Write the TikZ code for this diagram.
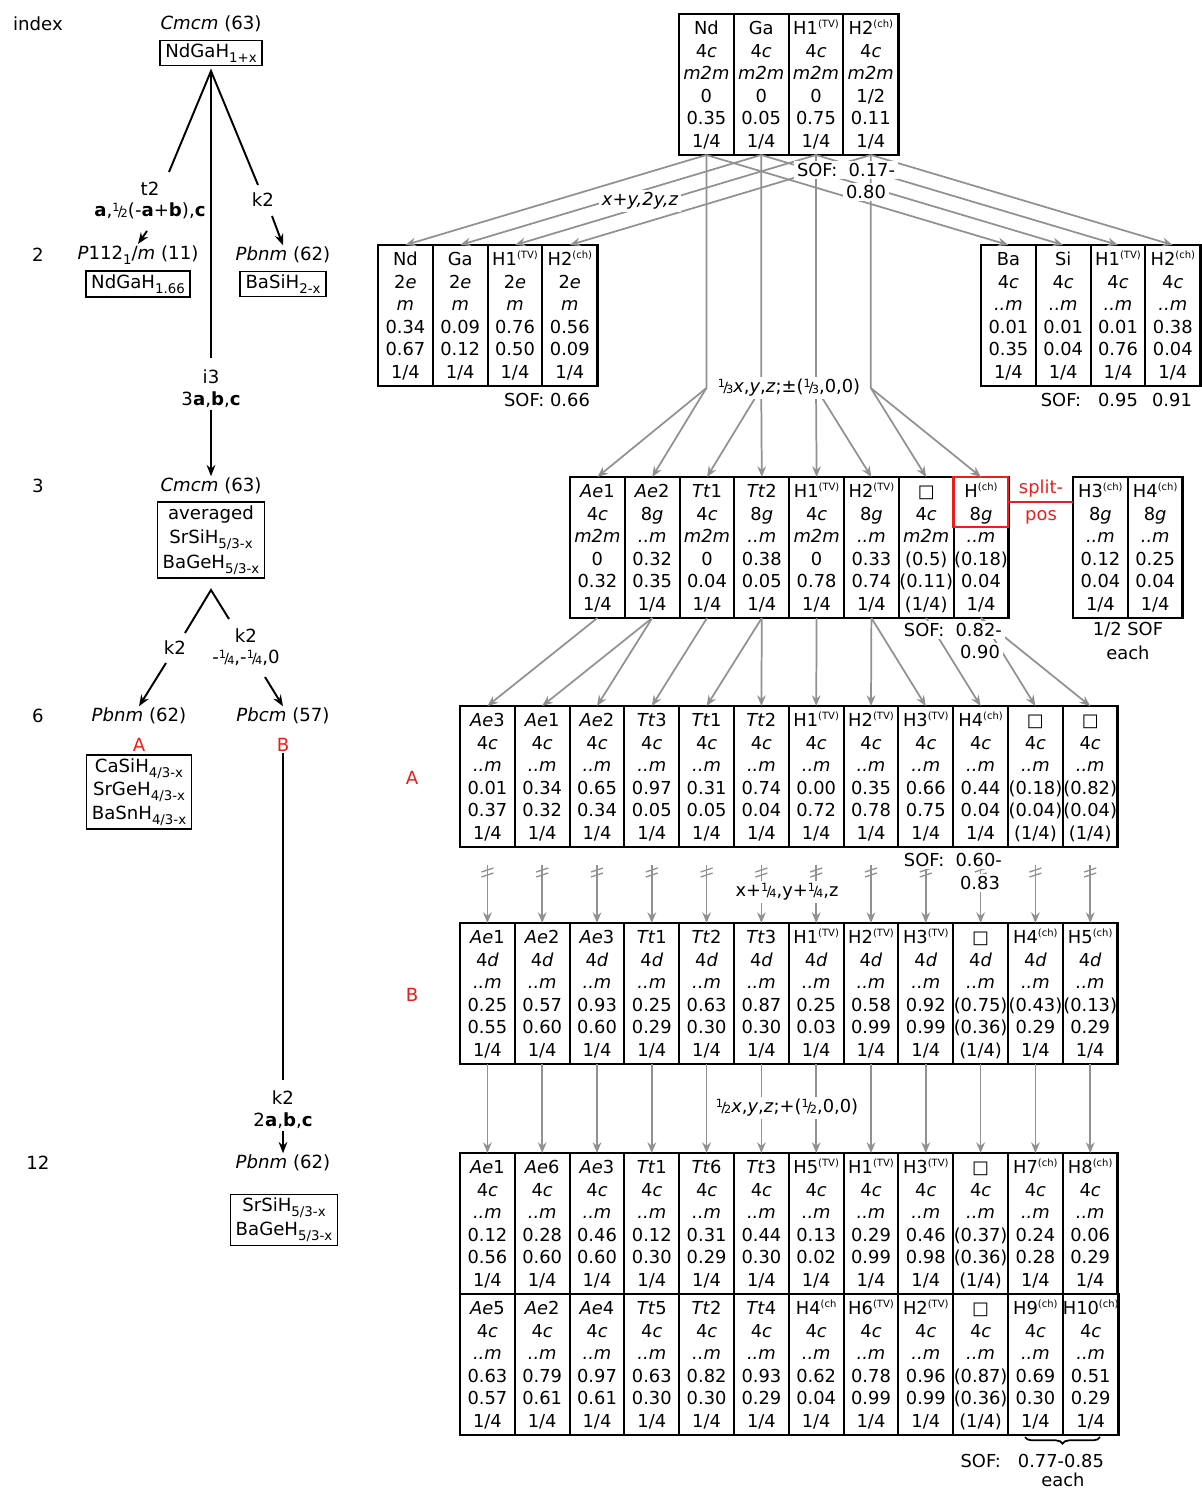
\documentclass[tikz,border=0pt]{standalone}
\usepackage{fontspec}
\setmainfont{DejaVu Sans}
\usetikzlibrary{arrows.meta,decorations.pathreplacing}
\definecolor{lgray}{RGB}{145,145,145}
\definecolor{myred}{RGB}{238,28,28}
\newcommand\itx[1]{\textit{#1}}
\newcommand\tfont{\fontsize{13.4}{16.9}\selectfont}
\newcommand\lfont{\fontsize{13.6}{18}\selectfont}
\newcommand\supx[1]{\raisebox{0.38em}{\fontsize{7.5}{7.5}\selectfont #1}}
\newcommand\sTV{\supx{(TV)}}
\newcommand\sCH{\supx{(ch)}}
\newcommand\sbs[1]{\raisebox{-0.28em}{\fontsize{10}{10}\selectfont #1}}
\newcommand\nf[2]{\raisebox{0.3em}{\fontsize{8.5}{8.5}\selectfont #1}\kern-0.1em{\fontsize{10.5}{10.5}\selectfont/}\kern-0.1em\raisebox{-0.05em}{\fontsize{8.5}{8.5}\selectfont #2}}
\newcommand\tcol[6]{\rule{0pt}{13pt}#1\\#2\\#3\\#4\\#5\\#6\rule[-3.4pt]{0pt}{0pt}}
\newcommand\pC{4\textit{c}}
\newcommand\pD{4\textit{d}}
\newcommand\pG{8\textit{g}}
\newcommand\pE{2\textit{e}}
\newcommand\pDm{\textit{..m}}
\newcommand\pMtm{\textit{m2m}}
\newcommand\pQ{□}
\tikzset{
 tcell/.style={draw, line width=1.5pt, inner sep=0pt, outer sep=0pt, minimum width=41.1pt, minimum height=105.75pt, anchor=north west, align=center, font=\tfont},
 tframe/.style={line width=2.2pt},
 lab/.style={font=\lfont, inner sep=1pt},
 wlab/.style={font=\tfont, fill=white, inner sep=2pt},
 plab/.style={font=\tfont, inner sep=1pt},
 fbx/.style={draw, line width=1.1pt, font=\lfont, align=center, inner xsep=4pt, inner ysep=2.5pt},
 tline/.style={line width=1.45pt},
 tarrow/.style={line width=1.45pt, -{Stealth[length=8.5pt,width=6.5pt]}},
 garrow/.style={draw=lgray, line width=1.3pt, -{Stealth[length=8pt,width=6.5pt]}},
 gline/.style={draw=lgray, line width=1pt},
}
\begin{document}
\begin{tikzpicture}[x=0.75pt,y=-0.75pt]
\useasboundingbox (0,0) rectangle (1202,1491);

% ---------- T0 ----------
\node[tcell] (t0-1) at (679,14) {\tcol{Nd}{\pC}{\pMtm}{0}{0.35}{1/4}};
\node[tcell] (t0-2) at (t0-1.north east) {\tcol{Ga}{\pC}{\pMtm}{0}{0.05}{1/4}};
\node[tcell] (t0-3) at (t0-2.north east) {\tcol{H1\sTV}{\pC}{\pMtm}{0}{0.75}{1/4}};
\node[tcell] (t0-4) at (t0-3.north east) {\tcol{H2\sCH}{\pC}{\pMtm}{1/2}{0.11}{1/4}};
\draw[tframe] (t0-1.north west) rectangle (t0-4.south east);

% ---------- T1 left ----------
\node[tcell] (t1l-1) at (378,245) {\tcol{Nd}{\pE}{\itx{m}}{0.34}{0.67}{1/4}};
\node[tcell] (t1l-2) at (t1l-1.north east) {\tcol{Ga}{\pE}{\itx{m}}{0.09}{0.12}{1/4}};
\node[tcell] (t1l-3) at (t1l-2.north east) {\tcol{H1\sTV}{\pE}{\itx{m}}{0.76}{0.50}{1/4}};
\node[tcell] (t1l-4) at (t1l-3.north east) {\tcol{H2\sCH}{\pE}{\itx{m}}{0.56}{0.09}{1/4}};
\draw[tframe] (t1l-1.north west) rectangle (t1l-4.south east);

% ---------- T1 right ----------
\node[tcell] (t1r-1) at (981,245) {\tcol{Ba}{\pC}{\pDm}{0.01}{0.35}{1/4}};
\node[tcell] (t1r-2) at (t1r-1.north east) {\tcol{Si}{\pC}{\pDm}{0.01}{0.04}{1/4}};
\node[tcell] (t1r-3) at (t1r-2.north east) {\tcol{H1\sTV}{\pC}{\pDm}{0.01}{0.76}{1/4}};
\node[tcell] (t1r-4) at (t1r-3.north east) {\tcol{H2\sCH}{\pC}{\pDm}{0.38}{0.04}{1/4}};
\draw[tframe] (t1r-1.north west) rectangle (t1r-4.south east);

% ---------- T2 ----------
\node[tcell] (t2-1) at (570,477) {\tcol{\itx{Ae}1}{\pC}{\pMtm}{0}{0.32}{1/4}};
\node[tcell] (t2-2) at (t2-1.north east) {\tcol{\itx{Ae}2}{\pG}{\pDm}{0.32}{0.35}{1/4}};
\node[tcell] (t2-3) at (t2-2.north east) {\tcol{\itx{Tt}1}{\pC}{\pMtm}{0}{0.04}{1/4}};
\node[tcell] (t2-4) at (t2-3.north east) {\tcol{\itx{Tt}2}{\pG}{\pDm}{0.38}{0.05}{1/4}};
\node[tcell] (t2-5) at (t2-4.north east) {\tcol{H1\sTV}{\pC}{\pMtm}{0}{0.78}{1/4}};
\node[tcell] (t2-6) at (t2-5.north east) {\tcol{H2\sTV}{\pG}{\pDm}{0.33}{0.74}{1/4}};
\node[tcell] (t2-7) at (t2-6.north east) {\tcol{\pQ}{\pC}{\pMtm}{(0.5)}{(0.11)}{(1/4)}};
\node[tcell] (t2-8) at (t2-7.north east) {\tcol{H\sCH}{\pG}{\pDm}{(0.18)}{0.04}{1/4}};
\draw[tframe] (t2-1.north west) rectangle (t2-8.south east);

\node[tcell] (t2b-1) at (1073,477) {\tcol{H3\sCH}{\pG}{\pDm}{0.12}{0.04}{1/4}};
\node[tcell] (t2b-2) at (t2b-1.north east) {\tcol{H4\sCH}{\pG}{\pDm}{0.25}{0.04}{1/4}};
\draw[tframe] (t2b-1.north west) rectangle (t2b-2.south east);

% red split box
\coordinate (rbox) at (1008,527);
\draw[myred, line width=1.9pt] (t2-8.north west) rectangle (rbox);
\coordinate (spl) at (1040,502);
\draw[myred, line width=1.9pt] (spl -| t2-8.east) -- (spl -| t2b-1.west);
\node[plab, text=myred] (split1) at (1041,489) {split-};
\node[plab, text=myred] (split2) at (1041,517) {pos};

% ---------- T3 ----------
\node[tcell] (t3-1) at (460,706) {\tcol{\itx{Ae}3}{\pC}{\pDm}{0.01}{0.37}{1/4}};
\node[tcell] (t3-2) at (t3-1.north east) {\tcol{\itx{Ae}1}{\pC}{\pDm}{0.34}{0.32}{1/4}};
\node[tcell] (t3-3) at (t3-2.north east) {\tcol{\itx{Ae}2}{\pC}{\pDm}{0.65}{0.34}{1/4}};
\node[tcell] (t3-4) at (t3-3.north east) {\tcol{\itx{Tt}3}{\pC}{\pDm}{0.97}{0.05}{1/4}};
\node[tcell] (t3-5) at (t3-4.north east) {\tcol{\itx{Tt}1}{\pC}{\pDm}{0.31}{0.05}{1/4}};
\node[tcell] (t3-6) at (t3-5.north east) {\tcol{\itx{Tt}2}{\pC}{\pDm}{0.74}{0.04}{1/4}};
\node[tcell] (t3-7) at (t3-6.north east) {\tcol{H1\sTV}{\pC}{\pDm}{0.00}{0.72}{1/4}};
\node[tcell] (t3-8) at (t3-7.north east) {\tcol{H2\sTV}{\pC}{\pDm}{0.35}{0.78}{1/4}};
\node[tcell] (t3-9) at (t3-8.north east) {\tcol{H3\sTV}{\pC}{\pDm}{0.66}{0.75}{1/4}};
\node[tcell] (t3-10) at (t3-9.north east) {\tcol{H4\sCH}{\pC}{\pDm}{0.44}{0.04}{1/4}};
\node[tcell] (t3-11) at (t3-10.north east) {\tcol{\pQ}{\pC}{\pDm}{(0.18)}{(0.04)}{(1/4)}};
\node[tcell] (t3-12) at (t3-11.north east) {\tcol{\pQ}{\pC}{\pDm}{(0.82)}{(0.04)}{(1/4)}};
\draw[tframe] (t3-1.north west) rectangle (t3-12.south east);

% ---------- T4 ----------
\node[tcell] (t4-1) at (460,923) {\tcol{\itx{Ae}1}{\pD}{\pDm}{0.25}{0.55}{1/4}};
\node[tcell] (t4-2) at (t4-1.north east) {\tcol{\itx{Ae}2}{\pD}{\pDm}{0.57}{0.60}{1/4}};
\node[tcell] (t4-3) at (t4-2.north east) {\tcol{\itx{Ae}3}{\pD}{\pDm}{0.93}{0.60}{1/4}};
\node[tcell] (t4-4) at (t4-3.north east) {\tcol{\itx{Tt}1}{\pD}{\pDm}{0.25}{0.29}{1/4}};
\node[tcell] (t4-5) at (t4-4.north east) {\tcol{\itx{Tt}2}{\pD}{\pDm}{0.63}{0.30}{1/4}};
\node[tcell] (t4-6) at (t4-5.north east) {\tcol{\itx{Tt}3}{\pD}{\pDm}{0.87}{0.30}{1/4}};
\node[tcell] (t4-7) at (t4-6.north east) {\tcol{H1\sTV}{\pD}{\pDm}{0.25}{0.03}{1/4}};
\node[tcell] (t4-8) at (t4-7.north east) {\tcol{H2\sTV}{\pD}{\pDm}{0.58}{0.99}{1/4}};
\node[tcell] (t4-9) at (t4-8.north east) {\tcol{H3\sTV}{\pD}{\pDm}{0.92}{0.99}{1/4}};
\node[tcell] (t4-10) at (t4-9.north east) {\tcol{\pQ}{\pD}{\pDm}{(0.75)}{(0.36)}{(1/4)}};
\node[tcell] (t4-11) at (t4-10.north east) {\tcol{H4\sCH}{\pD}{\pDm}{(0.43)}{0.29}{1/4}};
\node[tcell] (t4-12) at (t4-11.north east) {\tcol{H5\sCH}{\pD}{\pDm}{(0.13)}{0.29}{1/4}};
\draw[tframe] (t4-1.north west) rectangle (t4-12.south east);

% ---------- T5 ----------
\node[tcell] (t5a-1) at (460,1153) {\tcol{\itx{Ae}1}{\pC}{\pDm}{0.12}{0.56}{1/4}};
\node[tcell] (t5a-2) at (t5a-1.north east) {\tcol{\itx{Ae}6}{\pC}{\pDm}{0.28}{0.60}{1/4}};
\node[tcell] (t5a-3) at (t5a-2.north east) {\tcol{\itx{Ae}3}{\pC}{\pDm}{0.46}{0.60}{1/4}};
\node[tcell] (t5a-4) at (t5a-3.north east) {\tcol{\itx{Tt}1}{\pC}{\pDm}{0.12}{0.30}{1/4}};
\node[tcell] (t5a-5) at (t5a-4.north east) {\tcol{\itx{Tt}6}{\pC}{\pDm}{0.31}{0.29}{1/4}};
\node[tcell] (t5a-6) at (t5a-5.north east) {\tcol{\itx{Tt}3}{\pC}{\pDm}{0.44}{0.30}{1/4}};
\node[tcell] (t5a-7) at (t5a-6.north east) {\tcol{H5\sTV}{\pC}{\pDm}{0.13}{0.02}{1/4}};
\node[tcell] (t5a-8) at (t5a-7.north east) {\tcol{H1\sTV}{\pC}{\pDm}{0.29}{0.99}{1/4}};
\node[tcell] (t5a-9) at (t5a-8.north east) {\tcol{H3\sTV}{\pC}{\pDm}{0.46}{0.98}{1/4}};
\node[tcell] (t5a-10) at (t5a-9.north east) {\tcol{\pQ}{\pC}{\pDm}{(0.37)}{(0.36)}{(1/4)}};
\node[tcell] (t5a-11) at (t5a-10.north east) {\tcol{H7\sCH}{\pC}{\pDm}{0.24}{0.28}{1/4}};
\node[tcell] (t5a-12) at (t5a-11.north east) {\tcol{H8\sCH}{\pC}{\pDm}{0.06}{0.29}{1/4}};
\draw[tframe] (t5a-1.north west) rectangle (t5a-12.south east);

\node[tcell] (t5b-1) at (t5a-1.south west) {\tcol{\itx{Ae}5}{\pC}{\pDm}{0.63}{0.57}{1/4}};
\node[tcell] (t5b-2) at (t5b-1.north east) {\tcol{\itx{Ae}2}{\pC}{\pDm}{0.79}{0.61}{1/4}};
\node[tcell] (t5b-3) at (t5b-2.north east) {\tcol{\itx{Ae}4}{\pC}{\pDm}{0.97}{0.61}{1/4}};
\node[tcell] (t5b-4) at (t5b-3.north east) {\tcol{\itx{Tt}5}{\pC}{\pDm}{0.63}{0.30}{1/4}};
\node[tcell] (t5b-5) at (t5b-4.north east) {\tcol{\itx{Tt}2}{\pC}{\pDm}{0.82}{0.30}{1/4}};
\node[tcell] (t5b-6) at (t5b-5.north east) {\tcol{\itx{Tt}4}{\pC}{\pDm}{0.93}{0.29}{1/4}};
\node[tcell] (t5b-7) at (t5b-6.north east) {\tcol{H4\supx{(ch}}{\pC}{\pDm}{0.62}{0.04}{1/4}};
\node[tcell] (t5b-8) at (t5b-7.north east) {\tcol{H6\sTV}{\pC}{\pDm}{0.78}{0.99}{1/4}};
\node[tcell] (t5b-9) at (t5b-8.north east) {\tcol{H2\sTV}{\pC}{\pDm}{0.96}{0.99}{1/4}};
\node[tcell] (t5b-10) at (t5b-9.north east) {\tcol{\pQ}{\pC}{\pDm}{(0.87)}{(0.36)}{(1/4)}};
\node[tcell] (t5b-11) at (t5b-10.north east) {\tcol{H9\sCH}{\pC}{\pDm}{0.69}{0.30}{1/4}};
\node[tcell] (t5b-12) at (t5b-11.north east) {\tcol{H10\sCH}{\pC}{\pDm}{0.51}{0.29}{1/4}};
\draw[tframe] (t5b-1.north west) rectangle (t5b-12.south east);

% ---------- gray connectors ----------
\foreach \i in {1,...,4}{
  \draw[garrow] (t0-\i.south) -- (t1l-\i.north);
  \draw[garrow] (t0-\i.south) -- (t1r-\i.north);
}
\coordinate (fanY) at (0,388);
\foreach \i in {1,...,4}{ \coordinate (v\i) at (t0-\i.south |- fanY); }
\draw[garrow] (t0-1.south) -- (v1) -- (t2-1.north);
\draw[garrow] (v1) -- (t2-2.north);
\draw[garrow] (t0-2.south) -- (v2) -- (t2-3.north);
\draw[garrow] (v2) -- (t2-4.north);
\draw[garrow] (t0-3.south) -- (v3) -- (t2-5.north);
\draw[garrow] (v3) -- (t2-6.north);
\draw[garrow] (t0-4.south) -- (v4) -- (t2-7.north);
\draw[garrow] (v4) -- (t2-8.north);

\draw[garrow] (t2-1.south) -- (t3-1.north);
\draw[garrow] (t2-2.south) -- (t3-2.north);
\draw[garrow] (t2-2.south) -- (t3-3.north);
\draw[garrow] (t2-3.south) -- (t3-4.north);
\draw[garrow] (t2-4.south) -- (t3-5.north);
\draw[garrow] (t2-4.south) -- (t3-6.north);
\draw[garrow] (t2-5.south) -- (t3-7.north);
\draw[garrow] (t2-6.south) -- (t3-8.north);
\draw[garrow] (t2-6.south) -- (t3-9.north);
\draw[garrow] (t2-7.south) -- (t3-10.north);
\draw[garrow] (t2-8.south) -- (t3-11.north);
\draw[garrow] (t2-8.south) -- (t3-12.north);

\foreach \i in {1,...,12}{
  \coordinate (bk\i) at ([yshift=-13.5pt]t3-\i.south);
  \draw[garrow] (bk\i) -- (t4-\i.north);
  \draw[gline] ([shift={(-6,7)}]bk\i) -- ([shift={(6,3)}]bk\i);
  \draw[gline] ([shift={(-6,12)}]bk\i) -- ([shift={(6,8)}]bk\i);
  \draw[garrow] (t4-\i.south) -- (t5a-\i.north);
}

% ---------- labels on the right ----------
\node[wlab, font=\tfont\itshape] (lxy) at (640,201) {x+y,2y,z};
\node[wlab] (sof0a) at (846,170) {SOF:\ \ 0.17-};
\node[wlab] (sof0b) at (866,192) {0.80};
\node[wlab] (lthird) at (789,388) {\nf13\itx{x},\itx{y},\itx{z};±(\nf13,0,0)};
\node[plab] (sof1l) at (547,400) {SOF: 0.66};
\node[plab] (sof1a) at (1061,400) {SOF:};
\node[plab] (sof1b) at (1118,400) {0.95};
\node[plab] (sof1c) at (1172,400) {0.91};
\node[plab] (half) at (1128,630) {1/2 SOF};
\node[plab] (each1) at (1128,653) {each};
\node[wlab, anchor=west] (sof2a) at (901,630) {SOF:\ \ 0.82-};
\node[wlab] (sof2b) at (980,652) {0.90};
\node[wlab, anchor=west] (sof3a) at (901,860) {SOF:\ \ 0.60-};
\node[wlab] (sof3b) at (980,883) {0.83};
\node[wlab] (lq) at (787,892) {x+\nf14,y+\nf14,z};
\node[wlab] (lh) at (787,1108) {\nf12\itx{x},\itx{y},\itx{z};+(\nf12,0,0)};
\node[plab, anchor=west] (sof5) at (959,1461) {SOF:\ \ \ 0.77-0.85};
\node[plab] (each2) at (1063,1480) {each};
\coordinate (br1) at (1100,1437);
\coordinate (br2) at (1025,1437);
\draw[decorate, decoration={brace, amplitude=5pt}, line width=1.3pt] (br1) -- (br2);
\node[lab, text=myred] (rA) at (412,778) {A};
\node[lab, text=myred] (rB) at (412,995) {B};

% ---------- tree on the left ----------
\node[lab] (idx) at (38,24) {index};
\node[lab] (g0) at (211,24) {\itx{Cmcm} (63)};
\node[fbx] (f0) at (211,53) {NdGaH\sbs{1+x}};
\coordinate (apex) at (211,71);
\coordinate (lt) at (169,172);
\coordinate (rt) at (258,185);
\coordinate (vb) at (211,358);
\draw[tline] (lt) -- (apex) -- (rt);
\draw[tline] (apex) -- (vb);
\node[lab] (t2) at (150,189) {t2};
\node[lab] (t2m) at (150,211) {\textbf{a},\nf12(-\textbf{a}+\textbf{b}),\textbf{c}};
\node[lab] (idx2) at (38,255) {2};
\node[lab] (g1a) at (138,255) {\itx{P}112\sbs{1}/\itx{m} (11)};
\node[fbx] (f1a) at (138,284) {NdGaH\sbs{1.66}};
\node[lab] (k2a) at (263,200) {k2};
\node[lab] (g1b) at (283,255) {\itx{Pbnm} (62)};
\node[fbx] (f1b) at (283,284) {BaSiH\sbs{2-x}};
\coordinate (t2s) at (147,231);
\draw[tarrow] (t2s) -- (g1a.north);
\coordinate (k2as) at (272,216);
\draw[tarrow] (k2as) -- (g1b.north);
\node[lab] (i3) at (211,377) {i3};
\node[lab] (i3m) at (211,400) {3\textbf{a},\textbf{b},\textbf{c}};
\node[lab] (idx3) at (38,486) {3};
\node[lab] (g2) at (211,486) {\itx{Cmcm} (63)};
\draw[tarrow] (i3m.south) -- (g2.north);
\node[fbx, font=\fontsize{13.6}{18.3}\selectfont] (f2) at (211,540) {averaged\\SrSiH\sbs{5/3-x}\\BaGeH\sbs{5/3-x}};
\coordinate (vl) at (185,633);
\coordinate (vt) at (211,590);
\coordinate (vr) at (229,619);
\draw[tline] (vl) -- (vt) -- (vr);
\node[lab] (k2l) at (175,648) {k2};
\node[lab] (k2r) at (246,636) {k2};
\node[lab] (k2rm) at (246,658) {-\nf14,-\nf14,0};
\node[lab] (idx6) at (38,716) {6};
\node[lab] (g3a) at (139,716) {\itx{Pbnm} (62)};
\node[lab] (g3b) at (283,716) {\itx{Pbcm} (57)};
\coordinate (k2ls) at (166,663);
\draw[tarrow] (k2ls) -- (g3a.north);
\coordinate (k2rs) at (265,677);
\draw[tarrow] (k2rs) -- (g3b.north);
\node[lab, text=myred] (lA) at (139,745) {A};
\node[lab, text=myred] (lB) at (283,745) {B};
\node[fbx, font=\fontsize{13.6}{17.6}\selectfont] (f3a) at (139,792) {CaSiH\sbs{4/3-x}\\SrGeH\sbs{4/3-x}\\BaSnH\sbs{4/3-x}};
\coordinate (bend) at (283,1080);
\draw[tline] (lB.south) -- (bend);
\node[lab] (k2c) at (283,1098) {k2};
\node[lab] (k2cm) at (283,1121) {2\textbf{a},\textbf{b},\textbf{c}};
\node[lab] (idx12) at (38,1163) {12};
\node[lab] (g4) at (283,1163) {\itx{Pbnm} (62)};
\draw[tarrow] (k2cm.south) -- (g4.north);
\node[fbx, font=\fontsize{13.6}{18}\selectfont] (f4) at (284,1220) {SrSiH\sbs{5/3-x}\\BaGeH\sbs{5/3-x}};
\end{tikzpicture}
\end{document}
